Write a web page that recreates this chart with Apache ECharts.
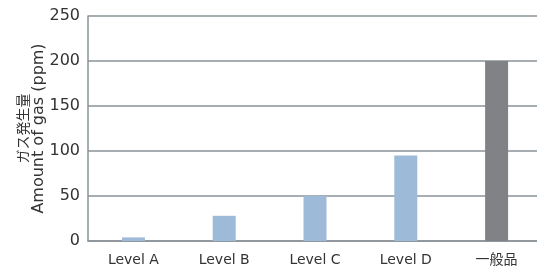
<!DOCTYPE html>
<html><head><meta charset="utf-8">
<script src="https://cdn.jsdelivr.net/npm/echarts@6/dist/echarts.min.js"></script>
<style>html,body{margin:0;padding:0;background:#fff}#c{width:537px;height:272px}</style>
</head><body><div id="c"></div>
<script>
const categories = ['Level A', 'Level B', 'Level C', 'Level D', '一般品'];
const gasValues = [4, 28, 50, 95, 200];
const barColors = ['#9dbad8', '#9dbad8', '#9dbad8', '#9dbad8', '#808285'];
const yTicks = [0, 50, 100, 150, 200, 250];
const yNameJp = 'ガス発生量';
const yNameEn = 'Amount of gas (ppm)';
const FONT = '"DejaVu Sans", "Noto Sans CJK JP", sans-serif';
const JPFONT = '"Noto Sans CJK JP", sans-serif';

const chart = echarts.init(document.getElementById('c'), null, {renderer: 'canvas'});
chart.setOption({
  animation: false,
  grid: {left: 88, width: 454, top: 16, bottom: 31, containLabel: false, outerBoundsMode: 'none'},
  xAxis: {
    type: 'category', data: categories,
    axisLine: {show: true, lineStyle: {color: '#8a9398', width: 1.5}},
    axisTick: {show: false},
    axisLabel: {color: '#333', fontSize: 14, fontFamily: FONT, margin: 12}
  },
  yAxis: {
    type: 'value', min: yTicks[0], max: yTicks[yTicks.length - 1], interval: 50,
    name: '{jp|' + yNameJp + '}\n{en|' + yNameEn + '}',
    nameLocation: 'middle', nameRotate: 90, nameGap: 41, nameMoveOverlap: false,
    nameTextStyle: {
      color: '#333',
      rich: {
        jp: {fontSize: 14, fontFamily: JPFONT, lineHeight: 16, color: '#333'},
        en: {fontSize: 16, fontFamily: FONT, lineHeight: 16, color: '#333'}
      }
    },
    axisLine: {show: true, lineStyle: {color: '#8a9398', width: 1.5}},
    axisTick: {show: false},
    splitLine: {show: true, lineStyle: {color: '#8a9398', width: 1.5}},
    axisLabel: {color: '#333', fontSize: 16, fontFamily: FONT, margin: 8}
  },
  series: [{
    type: 'bar', barWidth: 23,
    data: gasValues.map((v, i) => ({value: v, itemStyle: {color: barColors[i]}}))
  }]
});
</script></body></html>
